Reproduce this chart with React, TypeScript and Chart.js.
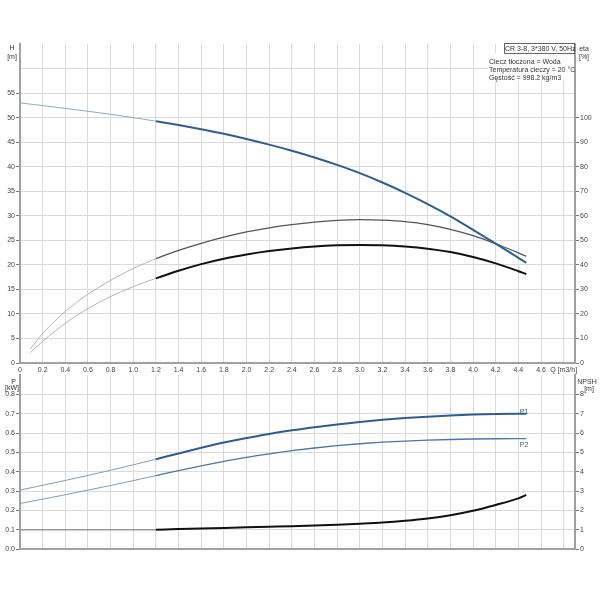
import { useEffect, useRef } from "react";
import { Chart, registerables } from "chart.js";

Chart.register(...registerables);

Chart.defaults.font.family = "'Liberation Sans', Arial, sans-serif";
Chart.defaults.font.size = 7;
Chart.defaults.color = "#444";

// flow rate Q [m3/h]
const qPoints = [0, 0.2, 0.4, 0.6, 0.8, 1.0, 1.2, 1.4, 1.6, 1.8, 2.0, 2.2, 2.4, 2.6, 2.8, 3.0, 3.2, 3.4, 3.6, 3.8, 4.0, 4.2, 4.4, 4.47];
const qEta = [0.09, 0.2, 0.4, 0.6, 0.8, 1.0, 1.2, 1.4, 1.6, 1.8, 2.0, 2.2, 2.4, 2.6, 2.8, 3.0, 3.2, 3.4, 3.6, 3.8, 4.0, 4.2, 4.4, 4.47];

// H [m]
const headValues = [53.0, 52.45, 51.88, 51.29, 50.67, 50.0, 49.28, 48.5, 47.64, 46.7, 45.65, 44.5, 43.25, 41.88, 40.36, 38.68, 36.78, 34.68, 32.38, 29.88, 27.13, 24.33, 21.43, 20.4];
// eta [%]
const etaUpper = [5.6, 12.0, 21.0, 28.0, 33.7, 38.5, 42.5, 45.9, 48.8, 51.3, 53.4, 55.1, 56.4, 57.4, 58.1, 58.4, 58.2, 57.6, 56.4, 54.5, 51.9, 48.6, 44.9, 43.5];
const etaLower = [4.2, 8.8, 16.2, 22.2, 27.1, 31.1, 34.5, 37.6, 40.3, 42.5, 44.2, 45.6, 46.7, 47.5, 47.95, 48.1, 48.0, 47.5, 46.6, 45.2, 43.2, 40.6, 37.4, 36.2];
// P [kW]
const p1Values = [0.305, 0.33, 0.355, 0.381, 0.408, 0.436, 0.465, 0.495, 0.524, 0.551, 0.575, 0.596, 0.615, 0.631, 0.645, 0.658, 0.669, 0.678, 0.685, 0.691, 0.696, 0.699, 0.7, 0.7];
const p2Values = [0.236, 0.258, 0.281, 0.305, 0.329, 0.354, 0.38, 0.406, 0.431, 0.454, 0.475, 0.493, 0.509, 0.523, 0.535, 0.545, 0.553, 0.559, 0.5635, 0.567, 0.5695, 0.571, 0.5715, 0.5715];
// NPSH [m]
const npshValues = [1.0, 1.0, 1.0, 1.0, 1.0, 1.0, 1.0, 1.03, 1.06, 1.09, 1.12, 1.15, 1.18, 1.22, 1.26, 1.31, 1.37, 1.46, 1.58, 1.75, 1.98, 2.28, 2.62, 2.8];

const qTicks = [0, 0.2, 0.4, 0.6, 0.8, 1.0, 1.2, 1.4, 1.6, 1.8, 2.0, 2.2, 2.4, 2.6, 2.8, 3.0, 3.2, 3.4, 3.6, 3.8, 4.0, 4.2, 4.4, 4.6, 4.8];
const qTickLabels = ["0", "0.2", "0.4", "0.6", "0.8", "1.0", "1.2", "1.4", "1.6", "1.8", "2.0", "2.2", "2.4", "2.6", "2.8", "3.0", "3.2", "3.4", "3.6", "3.8", "4.0", "4.2", "4.4", "4.6", "Q [m3/h]"];
const headTicks = [0, 5, 10, 15, 20, 25, 30, 35, 40, 45, 50, 55, 60];
const headTickLabels = ["0", "5", "10", "15", "20", "25", "30", "35", "40", "45", "50", "55", ""];
const etaTicks = [0, 10, 20, 30, 40, 50, 60, 70, 80, 90, 100];
const powerTicks = [0, 0.1, 0.2, 0.3, 0.4, 0.5, 0.6, 0.7, 0.8];
const powerTickLabels = ["0.0", "0.1", "0.2", "0.3", "0.4", "0.5", "0.6", "0.7", "0.8"];
const npshTicks = [0, 1, 2, 3, 4, 5, 6, 7, 8];

const GRID = "#dadada";
const AXIS = "#a0a0a0";
const TICK = "#777";
const BLUE = "#2f5e8e";

const toPoints = (xs: number[], ys: number[]) => xs.map((x, i) => ({ x, y: ys[i] }));

// thin light line below 1.2 m3/h, real style from there on
const splitStyle = (thin: string, thinW: number, main: string, mainW: number) => ({
  borderColor: main,
  borderWidth: mainW,
  segment: {
    borderColor: (ctx: any) => (ctx.p0.parsed.x < 1.19 ? thin : main),
    borderWidth: (ctx: any) => (ctx.p0.parsed.x < 1.19 ? thinW : mainW),
  },
});

const fixTicks = (values: number[]) => (scale: any) => {
  scale.ticks = values.map((v) => ({ value: v }));
};

const xScale = (showLabels: boolean, height: number) => ({
  type: "linear" as const,
  min: 0,
  max: 4.9,
  afterBuildTicks: fixTicks(qTicks),
  afterFit: (s: any) => {
    s.height = height;
  },
  grid: { color: GRID, drawTicks: false },
  border: { color: AXIS, width: 2 },
  ticks: {
    display: showLabels,
    padding: 3,
    maxRotation: 0,
    autoSkip: false,
    callback: (_v: any, i: number) => qTickLabels[i],
  },
});

const yScale = (
  position: "left" | "right",
  max: number,
  ticks: number[],
  labels: string[],
  width: number,
  onArea: boolean
) => ({
  type: "linear" as const,
  position,
  min: 0,
  max,
  afterBuildTicks: fixTicks(ticks),
  afterFit: (s: any) => {
    s.width = width;
  },
  grid: {
    color: GRID,
    drawOnChartArea: onArea,
    tickLength: 4,
    tickColor: (ctx: any) => (labels[ctx.index] === "" ? "transparent" : TICK),
  },
  border: { color: AXIS, width: 2 },
  ticks: {
    padding: 1,
    autoSkip: false,
    callback: (_v: any, i: number) => labels[i],
  },
});

const commonOptions = {
  animation: false as const,
  responsive: true,
  maintainAspectRatio: false,
  plugins: { legend: { display: false }, tooltip: { enabled: false } },
  elements: { point: { radius: 0 }, line: { cubicInterpolationMode: "monotone" as const } },
};

const Txt = ({ x, y, text, color = "#333", align = "center" }: { x: number; y: number; text: string; color?: string; align?: string }) => (
  <div
    style={{
      position: "absolute",
      left: x,
      top: y,
      transform: align === "center" ? "translate(-50%, -50%)" : "translate(0, -50%)",
      font: "7px 'Liberation Sans', Arial, sans-serif",
      lineHeight: 1,
      color,
      whiteSpace: "nowrap",
    }}
  >
    {text}
  </div>
);

export default function App() {
  const topRef = useRef<HTMLCanvasElement>(null);
  const bottomRef = useRef<HTMLCanvasElement>(null);

  useEffect(() => {
    if (!topRef.current || !bottomRef.current) return;

    const topChart = new Chart(topRef.current, {
      type: "line",
      data: {
        datasets: [
          { data: toPoints(qPoints, headValues), yAxisID: "y", ...splitStyle("#95a6ba", 1, BLUE, 2) },
          { data: toPoints(qEta, etaUpper), yAxisID: "eta", ...splitStyle("#b4b4b4", 1, "#555", 1.3) },
          { data: toPoints(qEta, etaLower), yAxisID: "eta", ...splitStyle("#b4b4b4", 1, "#111", 2) },
        ],
      },
      options: {
        ...commonOptions,
        layout: { padding: { top: 44, left: 0, right: 0, bottom: 0 } },
        scales: {
          x: xScale(true, 15),
          y: yScale("left", 65, headTicks, headTickLabels, 20, true),
          eta: yScale("right", 130, etaTicks, etaTicks.map(String), 25, false),
        },
      } as any,
    });

    const bottomChart = new Chart(bottomRef.current, {
      type: "line",
      data: {
        datasets: [
          { data: toPoints(qPoints, p1Values), yAxisID: "y", ...splitStyle("#8799b0", 1, BLUE, 2) },
          { data: toPoints(qPoints, p2Values), yAxisID: "y", ...splitStyle("#8799b0", 1, "#4a77a6", 1.3) },
          { data: toPoints(qPoints, npshValues), yAxisID: "npsh", ...splitStyle("#9a9a9a", 1.6, "#111", 2) },
        ],
      },
      options: {
        ...commonOptions,
        layout: { padding: { top: 5, left: 0, right: 0, bottom: 0 } },
        scales: {
          x: xScale(false, 6),
          y: yScale("left", 0.9, powerTicks, powerTickLabels, 20, true),
          npsh: yScale("right", 9, npshTicks, npshTicks.map(String), 25, false),
        },
      } as any,
    });

    return () => {
      topChart.destroy();
      bottomChart.destroy();
    };
  }, []);

  return (
    <div style={{ position: "absolute", left: 0, top: 0, width: 600, height: 600, background: "#fff" }}>
      <div style={{ position: "absolute", left: 0, top: 0, width: 600, height: 378 }}>
        <canvas ref={topRef}></canvas>
      </div>
      <div style={{ position: "absolute", left: 0, top: 370, width: 600, height: 185 }}>
        <canvas ref={bottomRef}></canvas>
      </div>

      <Txt x={12} y={47} text="H" />
      <Txt x={12} y={55.5} text="[m]" />
      <Txt x={584} y={48} text="eta" />
      <Txt x={584} y={55.5} text="[%]" />
      <Txt x={13.5} y={380.5} text="P" />
      <Txt x={12} y={387} text="[kW]" />
      <Txt x={587} y={380.5} text="NPSH" />
      <Txt x={589} y={387.5} text="[m]" />

      <div style={{ position: "absolute", left: 488, top: 53, width: 86, height: 28, background: "#fff" }}></div>
      <div
        style={{
          position: "absolute",
          left: 504,
          top: 43,
          width: 69,
          height: 9,
          border: "1px solid #666",
          background: "#fff",
          font: "7px 'Liberation Sans', Arial, sans-serif",
          lineHeight: "9px",
          textAlign: "center",
          color: "#333",
          whiteSpace: "nowrap",
        }}
      >
        CR 3-8, 3*380 V, 50Hz
      </div>
      <Txt x={489} y={61} text="Ciecz tłoczona = Woda" align="left" />
      <Txt x={489} y={69} text="Temperatura cieczy = 20 °C" align="left" />
      <Txt x={489} y={76.5} text="Gęstość = 998.2 kg/m3" align="left" />

      <Txt x={524} y={411} text="P1" color={BLUE} />
      <Txt x={524} y={443.5} text="P2" color={BLUE} />
    </div>
  );
}
